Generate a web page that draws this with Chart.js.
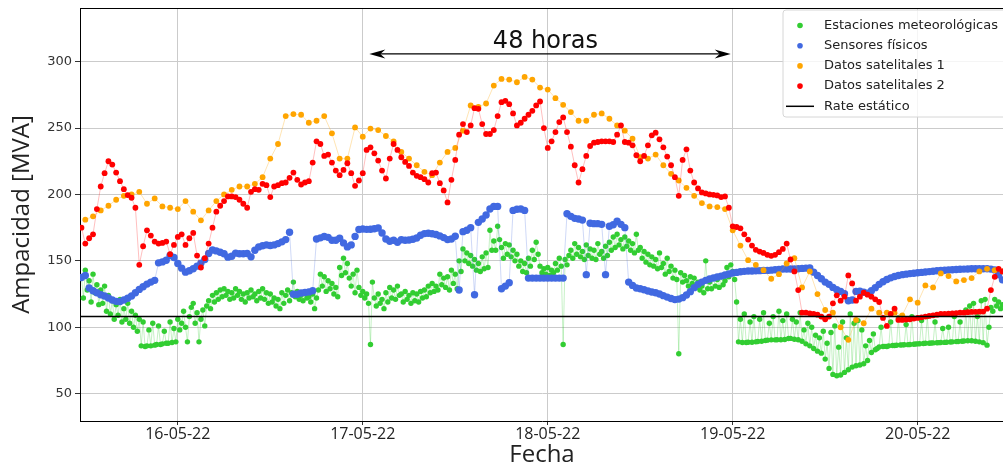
<!DOCTYPE html>
<html>
<head>
<meta charset="utf-8">
<script src="https://cdn.jsdelivr.net/npm/chart.js@4.4.1/dist/chart.umd.min.js"></script>
<style>
  html, body { margin: 0; padding: 0; background: #ffffff; overflow: hidden; }
  #wrap { width: 1003px; height: 470px; overflow: hidden; }
</style>
</head>
<body>
<div id="wrap"><canvas id="c" width="1008" height="470"></canvas></div>
<script>
// ---------------- DATA (hours counted from 16-05-22 00:00) ----------------
const dayTickHours = [0, 24, 48, 72, 96];
const dayTickLabels = ['16-05-22', '17-05-22', '18-05-22', '19-05-22', '20-05-22'];
const yTickValues = [50, 100, 150, 200, 250, 300];

const staticRate = 108;

// Estaciones meteorológicas: one reading every 15 min starting at -12.5 h
const greenStart = -12.5, greenStep = 0.25;
const greenValues = [
  138, 122,
  143, 128, 135, 119,   140, 126, 132, 117,   128, 118, 131, 112,   124, 110, 120, 106,
  117, 109, 121, 104,   114, 106, 118, 103,   112, 100, 109, 97,    106, 86, 104, 85.5,
  86, 98, 86, 103,      86.5, 87, 101, 87,    87.5, 97, 88, 88,     104, 88.5, 99, 89,
  106, 98, 103, 112,    100, 89, 108, 115,    118, 103, 111, 89,    106, 113, 101, 116,
  120, 114, 124, 119,   126, 121, 128, 123,   129, 124, 127, 121,   126, 122, 129, 124,
  127, 121, 125, 119,   126, 122, 128, 123,   125, 120, 127, 122,   129, 121, 126, 118,
  125, 119, 122, 116,   121, 114, 126, 118,   124, 128, 120, 126,   134, 123, 127, 121,
  124, 120, 126, 122,   123, 119, 125, 114,   122, 128, 140, 131,   138, 127, 135, 129,
  133, 125, 130, 123,   145, 139, 152, 141,   148, 137, 131, 140,   126, 143, 130, 124,
  127, 122, 125, 118,   87, 134, 122, 116,    125, 118, 121, 114,   126, 119, 130, 122,
  128, 121, 131, 124,   125, 119, 127, 121,   124, 118, 126, 120,   125, 119, 127, 122,
  128, 123, 131, 126,   133, 127, 131, 128,   140, 132, 137, 130,   138, 128, 143, 133,
  140, 129, 150, 142,   159, 150, 156, 148,   154, 146, 151, 143,   148, 142, 153, 144,
  156, 145, 173, 158,   165, 158, 176, 166,   160, 152, 163, 155,   162, 153, 158, 150,
  155, 146, 150, 142,   148, 141, 152, 146,   158, 151, 164, 155,   146, 141, 144, 140,
  145, 139, 143, 141,   148, 143, 152, 146,   87, 151, 147, 154,    158, 152, 163, 155,
  160, 153, 157, 151,   162, 154, 159, 152,   158, 151, 163, 155,   157, 152, 161, 154,
  164, 158, 168, 160,   170, 162, 166, 159,   168, 161, 165, 158,   163, 156, 170, 158,
  160, 152, 157, 149,   155, 147, 153, 146,   151, 144, 156, 145,   148, 140, 152, 142,
  146, 137, 143, 136,   80, 141, 134, 139,    135, 131, 138, 133,   137, 130, 134, 128,
  131, 126, 150, 129,   134, 129, 137, 131,   136, 130, 138, 132,   135, 145, 138, 147,
  142, 136, 119, 89,    106, 88.5, 110, 88.5, 88.7, 104, 88.7, 108, 89, 89.3, 106, 89.5,
  111, 90, 90.3, 103,   90.5, 108, 90.5, 90.6, 112, 90.6, 105, 90.8, 110, 91.5, 91.6, 106,
  91, 104, 90.6, 111,   89.5, 98, 87.5, 103,  86, 100, 84, 94,      82, 92, 80.5, 97,
  76, 88, 69, 96,       64.5, 101, 63.5, 85,  64, 104, 66, 92,      68, 110, 70, 103,
  71, 105, 71.6, 98,    72.5, 86, 75, 90,     81, 95, 83, 84,       85.2, 100, 85.5, 85.6,
  85.5, 86, 104, 86.2,  86.3, 86.4, 107, 86.6, 86.7, 86.8, 102, 86.9, 87, 108, 87.2, 87.4,
  87.5, 87.6, 105, 87.8, 87.9, 108, 88, 88.1, 88.2, 104, 88.3, 88.4, 88.5, 99, 88.6, 88.7,
  100, 88.9, 89, 108,   89.2, 89.3, 104, 89.5, 89.6, 113, 89.8, 116, 89.8, 118, 89.5, 108,
  89, 120, 88.4, 121,   86.5, 100, 115, 112,  121, 116, 119, 114,
  117
];

// Sensores físicos: one reading every 30 min starting at -12.5 h
const blueStart = -12.5, blueStep = 0.5;
const blueValues = [
  137.5, 139, 129.5, 127.5, 126, 124.5, 123.5, 122, 120.5, 119.5,
  119.3, 120.5, 121.8, 123.5, 126, 128.5, 130.5, 132.5, 134, 135.3,
  148.5, 149.2, 150.5, 154, 152.5, 148, 144.5, 141.5, 142.5, 144,
  146, 148.3, 151, 155.5, 158.2, 157.5, 156.5, 155.3, 152.8, 153.5,
  155.8, 155.4, 155.4, 155.5, 153, 158, 160.5, 161.4, 162, 161.5,
  162, 163, 164.3, 166, 171.5, 124.8, 124.8, 125.8, 126.2, 126.6,
  127.5, 166.5, 167.3, 168.3, 167.7, 165.5, 165.5, 167, 163.5, 160.5,
  162, 168.4, 173.6, 174, 173.7, 173.8, 174.2, 174.7, 171, 166.5,
  164.8, 165.5, 164, 165.9, 165.5, 165.7, 166.3, 167.2, 169.3, 170.5,
  170.8, 170.4, 169.8, 168.8, 167.5, 166, 166.5, 168.5, 128, 172,
  173, 175, 124.5, 179, 181.5, 184.5, 189, 191, 191, 129,
  131, 133.5, 188, 188.8, 189, 188, 137, 137, 137, 137,
  137, 137, 137, 137, 137, 137, 185.5, 183.5, 182, 181.5,
  180.7, 139.6, 178.3, 178, 178, 177.5, 139.6, 176, 177.2, 179.8,
  177.5, 175, 134, 131.5, 129.6, 129, 128.2, 127.3, 126.5, 126,
  125, 123.8, 122.7, 121.6, 120.8, 121.2, 122.3, 124.3, 126.8, 129.8,
  132.3, 134, 135.3, 136.3, 137.1, 137.9, 138.5, 139.3, 140.1, 140.8,
  141.3, 141.8, 142.1, 142.3, 142.4, 142.5, 142.6, 142.8, 142.8, 143,
  143.3, 143.6, 143.9, 143.9, 143.9, 143.9, 144.1, 144.3, 144.5, 144.6,
  141.5, 139, 136.5, 134, 132.3, 130, 128.3, 127, 125.3, 120,
  120.5, 127, 127.2, 126.3, 125.6, 127.5, 129.8, 132.3, 134.3, 136,
  137.2, 138.2, 139, 139.6, 140, 140.4, 140.7, 141, 141.3, 141.6,
  141.9, 142.2, 142.5, 142.7, 142.9, 143.1, 143.3, 143.5, 143.7, 143.8,
  143.9, 144, 144, 144, 144, 144, 143.8, 143.2, 139.5, 135.7
];

// Datos satelitales 1: hourly, starting at -12 h
const orangeStart = -12, orangeStep = 1;
const orangeValues = [
  181, 183.5, 188, 191.5, 196, 199, 200, 202, 193, 197,
  191, 190, 189, 195, 187, 180.5, 188, 195, 200, 203.5,
  206, 206, 208, 213, 227, 238, 259, 260.5, 260, 254,
  255.5, 259, 246, 227, 227, 250.5, 243.5, 249.6, 248.5, 244,
  240, 232, 227, 222, 217, 214.5, 224, 232, 235, 248,
  267, 266, 268.5, 282, 287, 286.5, 284.5, 288.5, 286.5, 280.5,
  279, 272.5, 267.5, 262, 255.5, 255.5, 260, 261, 257, 252,
  248, 242, 228, 227, 230, 222, 215.5, 210.5, 205, 199,
  193.5, 191, 190.5, 189, 173, 161.5, 150.5, 147, 143, 136.5,
  140, 148, 152, 130, 142, 125, 113, 111, 100, 90.5,
  105.5, 103, 114, 111, 111, 111, 109, 121, 118.5, 131.5,
  130, 140.5, 138.5, 134.5, 135.5, 137, 142, 144, 143, 142
];

// Datos satelitales 2: every 30 min, starting at -12.5 h
const redStart = -12.5, redStep = 0.5;
const redValues = [
  175, 163, 167, 170, 189, 206, 216, 225, 222.5, 216.5,
  210, 204, 199.5, 197.5, 190, 147, 161, 173, 169, 164.5,
  163, 163.5, 164.5, 155, 162, 168, 170, 162, 167, 171,
  154, 145, 152, 163, 175, 187, 191.5, 195, 198.5, 198.5,
  198, 196, 193, 190, 202, 204, 203.5, 208, 207, 198,
  206, 207, 208.5, 209, 212.5, 216.5, 211, 207.5, 209, 210,
  224, 240, 238, 229, 230, 224, 218, 214.5, 218.5, 223.5,
  216, 206.5, 210.5, 216, 233.5, 235.5, 231, 225.5, 218, 212,
  227, 238, 233.5, 228, 224.5, 221.5, 216.5, 214, 213, 211.5,
  209, 216, 216.5, 208.5, 203, 194, 211, 226, 245, 253,
  247, 252, 265, 264.5, 253, 245.5, 245.5, 248.5, 259, 269.5,
  270.5, 268, 261, 252, 254, 257, 260, 263, 267, 270,
  250, 235, 240, 247, 254.5, 258, 247, 236, 222, 209,
  219, 229, 236.5, 239, 239.5, 240, 240, 240, 239.5, 245,
  252, 239.5, 239, 237, 229.5, 225, 229, 237, 244.5, 246.5,
  241.5, 235.5, 228.5, 222, 213, 199, 226, 234, 218, 209,
  204.5, 201.5, 200.8, 200, 199.7, 199.3, 198, 198.5, 190, 176,
  175.5, 174.5, 170, 166, 161.5, 158.3, 157, 156, 154.5, 153.8,
  154.5, 156.5, 159, 163, 151, 142, 128, 111, 111, 110.5,
  110, 109.5, 108, 106, 108, 118, 124, 120, 123, 139,
  133, 120, 123, 126, 124.5, 123, 121, 119, 107, 101,
  110, 114, 105.5, 105.5, 105.8, 106, 106.5, 107, 107.5, 108,
  108.5, 109, 109.5, 110, 110, 110.3, 110.5, 110.7, 111, 111,
  111.3, 111.5, 111.6, 111.7, 111.8, 114, 128, 138, 144, 142
];

// "48 horas" annotation (hours and MVA values)
const spanHours = [24.85, 71.74];
const spanArrowValue = 305.8;
const spanTextHour = 47.7;
const spanTextValue = 310.5;
const spanText = '48 horas';

// axis ranges
const X_MIN = -12.69, X_MAX = 107.2;
const Y_MIN = 29.4, Y_MAX = 340.4;

// ---------------- BUILD ----------------
function toPoints(start, step, values) {
  return values.map((v, i) => ({ x: start + i * step, y: v }));
}

const frameplugin = {
  id: 'topFrame',
  afterDatasetsDraw(chart) {
    const a = chart.chartArea, ctx = chart.ctx;
    ctx.save();
    ctx.strokeStyle = '#000';
    ctx.lineWidth = 1;
    ctx.beginPath();
    ctx.moveTo(a.left, a.top + 0.5);
    ctx.lineTo(a.right + 2, a.top + 0.5);
    ctx.stroke();
    ctx.restore();
  }
};

const spanPlugin = {
  id: 'spanArrow',
  afterDatasetsDraw(chart) {
    const xs = chart.scales.x, ys = chart.scales.y, ctx = chart.ctx;
    const xa = xs.getPixelForValue(spanHours[0]);
    const xb = xs.getPixelForValue(spanHours[1]);
    const y = ys.getPixelForValue(spanArrowValue);
    ctx.save();
    ctx.strokeStyle = '#000';
    ctx.fillStyle = '#000';
    ctx.lineWidth = 1.3;
    ctx.beginPath();
    ctx.moveTo(xa + 8, y);
    ctx.lineTo(xb - 8, y);
    ctx.stroke();
    const head = (tip, dir) => {
      ctx.beginPath();
      ctx.moveTo(tip, y);
      ctx.lineTo(tip + dir * 16, y - 4.5);
      ctx.lineTo(tip + dir * 11, y);
      ctx.lineTo(tip + dir * 16, y + 4.5);
      ctx.closePath();
      ctx.fill();
    };
    head(xa, 1);
    head(xb, -1);
    ctx.font = '24px "DejaVu Sans"';
    ctx.textAlign = 'center';
    ctx.textBaseline = 'alphabetic';
    ctx.fillStyle = '#111';
    ctx.fillText(spanText, xs.getPixelForValue(spanTextHour), ys.getPixelForValue(spanTextValue));
    ctx.restore();
  }
};

const legendPlugin = {
  id: 'boxLegend',
  afterDraw(chart) {
    const ctx = chart.ctx;
    const bx = 783, by = 10, bw = 240, bh = 107, r = 3;
    ctx.save();
    ctx.beginPath();
    ctx.moveTo(bx + r, by);
    ctx.lineTo(bx + bw, by);
    ctx.lineTo(bx + bw, by + bh);
    ctx.lineTo(bx + r, by + bh);
    ctx.quadraticCurveTo(bx, by + bh, bx, by + bh - r);
    ctx.lineTo(bx, by + r);
    ctx.quadraticCurveTo(bx, by, bx + r, by);
    ctx.closePath();
    ctx.fillStyle = 'rgba(255,255,255,0.8)';
    ctx.fill();
    ctx.strokeStyle = '#d6d6d6';
    ctx.lineWidth = 1;
    ctx.stroke();
    ctx.font = '13px "DejaVu Sans"';
    ctx.textBaseline = 'middle';
    ctx.textAlign = 'left';
    chart.data.datasets.forEach((ds, i) => {
      const cy = 25.5 + i * 20.2;
      if (ds.pointRadius > 0) {
        ctx.beginPath();
        ctx.arc(800, cy, 2.8, 0, Math.PI * 2);
        ctx.fillStyle = ds.pointBackgroundColor;
        ctx.fill();
      } else {
        ctx.beginPath();
        ctx.moveTo(786, cy);
        ctx.lineTo(814, cy);
        ctx.strokeStyle = ds.borderColor;
        ctx.lineWidth = 1.5;
        ctx.stroke();
      }
      ctx.fillStyle = '#222';
      ctx.fillText(ds.label, 824, cy);
    });
    ctx.restore();
  }
};

Chart.defaults.font.family = '"DejaVu Sans", sans-serif';

new Chart(document.getElementById('c'), {
  type: 'line',
  data: {
    datasets: [
      {
        label: 'Estaciones meteorológicas',
        data: toPoints(greenStart, greenStep, greenValues),
        borderColor: 'rgba(50,205,50,0.28)',
        borderWidth: 1,
        pointBackgroundColor: '#32cd32',
        pointBorderWidth: 0,
        pointRadius: 2.7,
        order: 5
      },
      {
        label: 'Sensores físicos',
        data: toPoints(blueStart, blueStep, blueValues),
        borderColor: 'rgba(65,105,225,0.25)',
        borderWidth: 1,
        pointBackgroundColor: '#4169e1',
        pointBorderWidth: 0,
        pointRadius: 3.7,
        order: 4
      },
      {
        label: 'Datos satelitales 1',
        data: toPoints(orangeStart, orangeStep, orangeValues),
        borderColor: 'rgba(255,165,0,0.3)',
        borderWidth: 1,
        pointBackgroundColor: '#ffa500',
        pointBorderWidth: 0,
        pointRadius: 2.9,
        order: 3
      },
      {
        label: 'Datos satelitales 2',
        data: toPoints(redStart, redStep, redValues),
        borderColor: 'rgba(255,0,0,0.25)',
        borderWidth: 1,
        pointBackgroundColor: '#ff0000',
        pointBorderWidth: 0,
        pointRadius: 2.9,
        order: 2
      },
      {
        label: 'Rate estático',
        data: [{ x: X_MIN, y: staticRate }, { x: X_MAX, y: staticRate }],
        borderColor: '#000000',
        borderWidth: 1.5,
        pointRadius: 0,
        order: 1
      }
    ]
  },
  options: {
    responsive: false,
    animation: false,
    devicePixelRatio: 1,
    events: [],
    layout: { padding: { top: 8, right: 0, left: 0, bottom: 0 } },
    plugins: { legend: { display: false }, tooltip: { enabled: false } },
    elements: { line: { tension: 0 } },
    scales: {
      x: {
        type: 'linear',
        min: X_MIN,
        max: X_MAX,
        afterBuildTicks(axis) { axis.ticks = dayTickHours.map(v => ({ value: v })); },
        afterFit(axis) { axis.height = 49; axis.paddingLeft = 0; axis.paddingRight = 0; },
        ticks: {
          callback(value) {
            const i = dayTickHours.indexOf(value);
            return i >= 0 ? dayTickLabels[i] : '';
          },
          font: { family: '"Open Sans"', size: 16 },
          color: '#222',
          padding: 0,
          maxRotation: 0,
          autoSkip: false
        },
        grid: { color: '#cbcbcb', lineWidth: 1, tickLength: 4, tickColor: '#333' },
        border: { display: true, color: '#000', width: 1 },
        title: {
          display: true,
          text: 'Fecha',
          font: { family: '"Open Sans"', size: 24 },
          color: '#222',
          padding: { top: 0, bottom: 0 }
        }
      },
      y: {
        type: 'linear',
        min: Y_MIN,
        max: Y_MAX,
        afterBuildTicks(axis) { axis.ticks = yTickValues.map(v => ({ value: v })); },
        afterFit(axis) { axis.width = 80; axis.paddingTop = 0; axis.paddingBottom = 0; },
        ticks: {
          font: { family: '"DejaVu Sans"', size: 13 },
          color: '#333',
          padding: 3
        },
        grid: { color: '#cbcbcb', lineWidth: 1, tickLength: 5, tickColor: '#333' },
        border: { display: true, color: '#000', width: 1 },
        title: {
          display: true,
          text: 'Ampacidad [MVA]',
          font: { family: '"Open Sans"', size: 24 },
          color: '#222',
          padding: { top: 8, bottom: 0 }
        }
      }
    }
  },
  plugins: [frameplugin, spanPlugin, legendPlugin]
});
</script>
</body>
</html>
